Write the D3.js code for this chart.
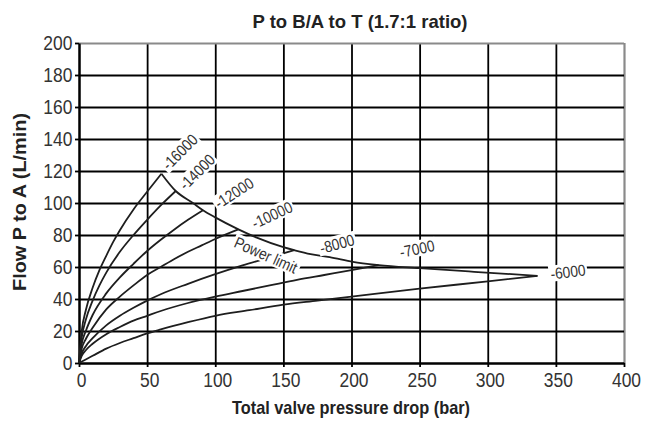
<!DOCTYPE html>
<html>
<head>
<meta charset="utf-8">
<script src="https://cdn.jsdelivr.net/npm/d3@7"></script>
<style>
  html, body { margin: 0; padding: 0; background: #fff; }
  svg { display: block; }
</style>
</head>
<body>
<svg id="chart" width="656" height="423"></svg>
<script>
// ---------------- DATA ----------------
const chartTitle = "P to B/A to T (1.7:1 ratio)";
const xTitle = "Total valve pressure drop (bar)";
const yTitle = "Flow P to A (L/min)";

const xTicks = [0, 50, 100, 150, 200, 250, 300, 350, 400];
const yTicks = [0, 20, 40, 60, 80, 100, 120, 140, 160, 180, 200];

const seriesNames = ["-16000", "-14000", "-12000", "-10000", "-8000", "-7000", "-6000"];

// pressure drop (bar) / flow (L/min) pairs
const curve16000 = [[0,0],[2,20],[5,33],[10,47],[15,58],[20,67],[25,75.5],[30,83],[40,96],[50,107],[60.5,118.3]];
const curve14000 = [[0,0],[2,16],[5,27],[10,39],[15,48.5],[20,56.5],[30,69.5],[40,80],[50,89.5],[60,98.5],[71,107.5]];
const curve12000 = [[0,0],[2,12],[5,20],[10,30],[20,43.5],[30,53.5],[40,62],[50,70],[60,77],[70,83.5],[80,89.5],[91,95.5]];
const curve10000 = [[0,0],[2,9],[5,15],[10,22],[20,33.5],[30,41.5],[40,48.5],[50,55],[60,60],[70,65],[80,69.5],[90,73.5],[100,77.5],[117,83.5]];
const curve8000  = [[0,0],[2,6],[5,10.5],[10,15.5],[20,23.5],[30,29.5],[40,34.5],[50,39],[60,43],[80,49.5],[100,55.5],[120,61],[140,66],[158,70.5]];
const curve7000  = [[0,0],[2,4.5],[5,8],[10,12],[20,18],[30,22.5],[40,26.5],[50,29.5],[60,32.5],[80,37.5],[100,41.5],[120,45],[140,48.5],[160,52],[180,55],[200,58],[220,61.2]];
const curve6000  = [[0,0],[10,4.5],[20,9],[30,12.5],[40,15.5],[50,18.5],[60,21],[80,25.5],[100,29.5],[125,33],[150,36.5],[175,39],[200,41.5],[250,46.5],[300,51],[336.5,54.5]];
const powerLimit = [[60.5,118.3],[71,107.5],[83.6,100],[91,95.5],[100,91],[117,83.5],[130,78.5],[150,72.4],[158,70.5],[170,68],[184,66.2],[201,63.2],[220,61.2],[250,59.3],[290,57],[336.5,54.5]];

const seriesCurves = [curve16000, curve14000, curve12000, curve10000, curve8000, curve7000, curve6000];

// label anchor points in data units (pressure, flow) and rotation angles
const labelTexts  = ["-16000", "-14000", "-12000", "-10000", "Power limit", "-8000", "-7000", "-6000"];
const labelX      = [74.0, 86.6, 113.8, 141.7, 137.2, 189.4, 248.1, 358.9];
const labelY      = [131.9, 119.4, 106.3, 92.5, 67.5, 74.4, 71.3, 56.9];
const labelAngles = [-45, -45, -33, -25, 24, -15, -12, -7];

// ---------------- CHART ----------------
const svg = d3.select("#chart");
const mLeft = 79, mRight = 624, mTop = 43, mBottom = 363;
const x = d3.scaleLinear().domain([0, 400]).range([mLeft, mRight]);
const y = d3.scaleLinear().domain([0, 200]).range([mBottom, mTop]);

const sans = "'Liberation Sans', Arial, Helvetica, sans-serif";
const condense = 0.83;

// grid (vertical)
const gridV = svg.append("g").attr("transform", `translate(0,${mBottom})`)
  .call(d3.axisBottom(x).tickValues(xTicks).tickSizeInner(-(mBottom - mTop)).tickSizeOuter(0).tickFormat(""));
gridV.select(".domain").remove();
gridV.selectAll(".tick line")
  .attr("stroke", d => d === 400 ? "#8a8a8a" : "#000")
  .attr("stroke-width", d => d === 400 ? 2.2 : 1.8);

// grid (horizontal)
const gridH = svg.append("g").attr("transform", `translate(${mLeft},0)`)
  .call(d3.axisLeft(y).tickValues(yTicks).tickSizeInner(-(mRight - mLeft)).tickSizeOuter(0).tickFormat(""));
gridH.select(".domain").remove();
gridH.selectAll(".tick line")
  .attr("stroke", d => d === 200 ? "#8a8a8a" : "#000")
  .attr("stroke-width", d => d === 200 ? 2.2 : 1.8);

// x axis
const xAxis = svg.append("g").attr("transform", `translate(0,${mBottom})`)
  .call(d3.axisBottom(x).tickValues(xTicks).tickSizeInner(4).tickSizeOuter(0).tickPadding(5).tickFormat(d3.format("d")));
xAxis.select(".domain").attr("stroke", "#000").attr("stroke-width", 2.2);
xAxis.selectAll(".tick line").attr("stroke", "#000").attr("stroke-width", 1.8);
xAxis.selectAll(".tick text")
  .attr("font-family", sans).attr("font-size", 21).attr("fill", "#333")
  .attr("transform", `translate(2,0) scale(${condense},1)`);

// y axis
const yAxis = svg.append("g").attr("transform", `translate(${mLeft},0)`)
  .call(d3.axisLeft(y).tickValues(yTicks).tickSizeInner(4).tickSizeOuter(0).tickPadding(4).tickFormat(d3.format("d")));
yAxis.select(".domain").attr("stroke", "#000").attr("stroke-width", 2.2);
yAxis.selectAll(".tick line").attr("stroke", "#000").attr("stroke-width", 1.8);
yAxis.selectAll(".tick text")
  .attr("font-family", sans).attr("font-size", 21).attr("fill", "#333")
  .attr("transform", `scale(${condense},1)`);

// curves
const line = d3.line().x(d => x(d[0])).y(d => y(d[1])).curve(d3.curveMonotoneX);
svg.append("g").selectAll("path").data(seriesCurves).join("path")
  .attr("d", line).attr("fill", "none").attr("stroke", "#1e1e1e").attr("stroke-width", 1.8);

svg.append("path").datum(powerLimit)
  .attr("d", line).attr("fill", "none").attr("stroke", "#1e1e1e").attr("stroke-width", 1.8);

// curve labels with white backgrounds
const labels = svg.append("g");
labelTexts.forEach((t, i) => {
  const g = labels.append("g")
    .attr("transform", `translate(${x(labelX[i])},${y(labelY[i])}) rotate(${labelAngles[i]}) scale(0.86,1)`);
  const rect = g.append("rect").attr("fill", "#fff");
  const txt = g.append("text")
    .attr("text-anchor", "middle").attr("dy", "0.35em")
    .attr("font-family", sans).attr("font-size", 16).attr("fill", "#333")
    .text(t);
  const bb = txt.node().getBBox();
  rect.attr("x", bb.x - 2).attr("y", bb.y + 1).attr("width", bb.width + 4).attr("height", bb.height - 2);
});

// titles
svg.append("text").attr("x", 360).attr("y", 28).attr("text-anchor", "middle")
  .attr("font-family", sans).attr("font-weight", "bold").attr("font-size", 19).attr("fill", "#222")
  .attr("textLength", 215).attr("lengthAdjust", "spacingAndGlyphs")
  .text(chartTitle);

svg.append("text").attr("x", 351).attr("y", 414).attr("text-anchor", "middle")
  .attr("font-family", sans).attr("font-weight", "bold").attr("font-size", 19).attr("fill", "#222")
  .attr("textLength", 238).attr("lengthAdjust", "spacingAndGlyphs")
  .text(xTitle);

svg.append("text").attr("transform", `translate(26,202) rotate(-90)`).attr("text-anchor", "middle")
  .attr("font-family", sans).attr("font-weight", "bold").attr("font-size", 19).attr("fill", "#222")
  .attr("textLength", 178).attr("lengthAdjust", "spacingAndGlyphs")
  .text(yTitle);
</script>
</body>
</html>
